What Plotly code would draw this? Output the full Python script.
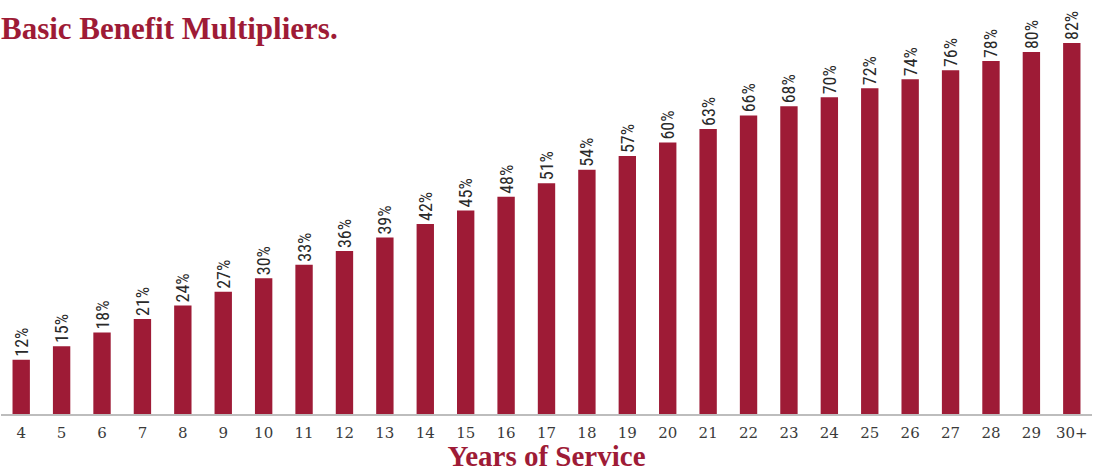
import plotly.graph_objects as go

years = ["4", "5", "6", "7", "8", "9", "10", "11", "12", "13", "14", "15", "16", "17",
         "18", "19", "20", "21", "22", "23", "24", "25", "26", "27", "28", "29", "30+"]
multipliers = [12, 15, 18, 21, 24, 27, 30, 33, 36, 39, 42, 45, 48, 51,
               54, 57, 60, 63, 66, 68, 70, 72, 74, 76, 78, 80, 82]
labels = [f"{v}%" for v in multipliers]

RED = "#9E1B36"

fig = go.Figure(go.Bar(
    x=years, y=multipliers, text=labels,
    textposition="outside", textangle=-90, constraintext="none", cliponaxis=False,
    textfont=dict(family="Liberation Sans Narrow, Roboto Condensed, Liberation Sans", size=18,
                  color="#2a2a2a"),
    marker=dict(color=RED, line=dict(width=0)),
    hoverinfo="skip",
))

fig.update_layout(
    width=1101, height=472,
    margin=dict(l=1, r=9, t=30, b=58),
    plot_bgcolor="white", paper_bgcolor="white",
    bargap=0.57,
    showlegend=False,
    title=dict(text="<b>Basic Benefit Multipliers.</b>", x=0, xref="paper", xanchor="left",
               y=0.94, yref="container", yanchor="middle",
               font=dict(family="Liberation Serif", size=31, color=RED)),
    xaxis=dict(showline=True, linecolor="#bdbdbd", linewidth=2,
               ticks="outside", ticklen=4, tickcolor="rgba(0,0,0,0)",
               tickfont=dict(family="DejaVu Serif", size=15, color="#3a3a3a"),
               title=dict(text="<b>Years of Service</b>", standoff=4,
                          font=dict(family="Liberation Serif", size=29, color=RED)),
               fixedrange=True),
    yaxis=dict(visible=False, range=[0, 84.87], fixedrange=True),
)

fig.write_html("out.html")
